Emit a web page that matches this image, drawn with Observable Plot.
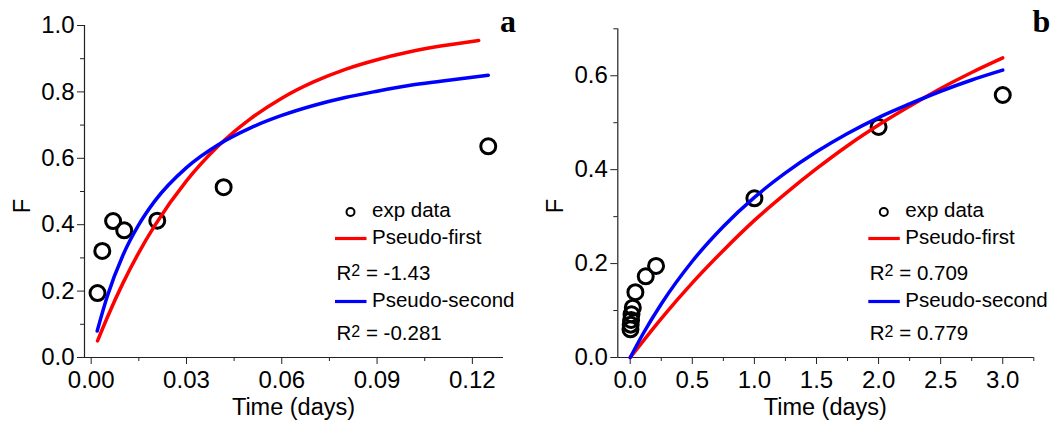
<!DOCTYPE html>
<html>
<head>
<meta charset="utf-8">
<script src="https://cdn.jsdelivr.net/npm/d3@7"></script>
<script src="https://cdn.jsdelivr.net/npm/@observablehq/plot@0.6"></script>
<style>
  body { margin: 0; background: #fff; }
  #chart { display: flex; width: 1052px; height: 423px; background: #fff; }
  #chart svg { flex: none; overflow: visible; }
</style>
</head>
<body>
<div id="chart"></div>
<script>
// ---- Panel a: short-time release (days) ----
const expA_t = [0.0020, 0.0035, 0.0069, 0.0104, 0.0208, 0.0417, 0.1250];
const expA_F = [0.194, 0.321, 0.411, 0.383, 0.412, 0.513, 0.636];

const firstA_t = [0.0020, 0.005, 0.010, 0.015, 0.020, 0.030, 0.040, 0.050, 0.060, 0.070, 0.080, 0.090, 0.100, 0.110, 0.122];
const firstA_F = [0.050, 0.119, 0.224, 0.316, 0.397, 0.532, 0.637, 0.718, 0.781, 0.830, 0.868, 0.897, 0.920, 0.938, 0.955];

const secondA_t = [0.0019, 0.005, 0.010, 0.015, 0.020, 0.030, 0.040, 0.050, 0.060, 0.070, 0.080, 0.090, 0.100, 0.110, 0.125];
const secondA_F = [0.080, 0.182, 0.308, 0.400, 0.471, 0.572, 0.641, 0.691, 0.729, 0.759, 0.783, 0.802, 0.819, 0.832, 0.850];

const r2A = ["-1.43", "-0.281"];

const xTicksA = [0, 0.03, 0.06, 0.09, 0.12];
const xMinorA = [0.015, 0.045, 0.075, 0.105];
const yTicksA = [0, 0.2, 0.4, 0.6, 0.8, 1.0];
const yMinorA = [0.1, 0.3, 0.5, 0.7, 0.9];

// ---- Panel b: long-time release (days) ----
const expB_t = [0.0020, 0.0035, 0.0069, 0.0104, 0.0208, 0.0417, 0.125, 0.208, 1, 2, 3];
const expB_F = [0.060, 0.070, 0.080, 0.092, 0.106, 0.139, 0.173, 0.195, 0.339, 0.491, 0.559];

const firstB_t = [0, 0.25, 0.5, 0.75, 1, 1.25, 1.5, 1.75, 2, 2.25, 2.5, 2.75, 3];
const firstB_F = [0, 0.083, 0.159, 0.228, 0.292, 0.349, 0.402, 0.451, 0.495, 0.535, 0.573, 0.607, 0.638];

const secondB_t = [0, 0.1, 0.25, 0.5, 0.75, 1, 1.25, 1.5, 1.75, 2, 2.25, 2.5, 2.75, 3];
const secondB_F = [0, 0.049, 0.114, 0.205, 0.279, 0.341, 0.393, 0.438, 0.477, 0.511, 0.540, 0.567, 0.591, 0.612];

const r2B = ["0.709", "0.779"];

const xTicksB = [0, 0.5, 1.0, 1.5, 2.0, 2.5, 3.0];
const xMinorB = [0.25, 0.75, 1.25, 1.75, 2.25, 2.75, 3.25];
const yTicksB = [0, 0.2, 0.4, 0.6];
const yMinorB = [0.1, 0.3, 0.5, 0.7];

const seriesNames = ["exp data", "Pseudo-first", "Pseudo-second"];
const xTitle = "Time (days)";
const yTitle = "F";

const FONT = "'Liberation Sans', Arial, Helvetica, sans-serif";
const RED = "#ff0000", BLUE = "#0000ff", AXIS = "#222";

const zip = (ts, fs) => ts.map((t, i) => ({t, F: fs[i]}));

function panel(o) {
  const svg = Plot.plot({
    width: 526,
    height: 423,
    marginLeft: o.ml,
    marginRight: o.mr,
    marginTop: o.mt,
    marginBottom: 66,
    style: {fontFamily: FONT, fontSize: "24px", color: "#000", background: "transparent", overflow: "visible"},
    x: {domain: o.xDomain},
    y: {domain: o.yDomain},
    marks: [
      Plot.axisX({ticks: o.xMinor, tickSize: 4, tickFormat: () => "", label: null, stroke: AXIS}),
      Plot.axisX({ticks: o.xTicks, tickSize: 7, tickPadding: 6, tickFormat: o.xFormat, label: null, stroke: AXIS}),
      Plot.axisY({ticks: o.yMinor, tickSize: 4, tickFormat: () => "", label: null, stroke: AXIS}),
      Plot.axisY({ticks: o.yTicks, tickSize: 7, tickPadding: 3, tickFormat: d3.format(".1f"), label: null, stroke: AXIS}),
      Plot.ruleY([o.yDomain[0]], {stroke: AXIS, strokeWidth: 1.2}),
      Plot.ruleX([o.xDomain[0]], {stroke: AXIS, strokeWidth: 1.2}),
      Plot.dot(o.exp, {x: "t", y: "F", r: 7.5, fill: "none", stroke: "#000", strokeWidth: 3}),
      Plot.line(o.first, {x: "t", y: "F", stroke: RED, strokeWidth: 3.5, curve: "monotone-x"}),
      Plot.line(o.second, {x: "t", y: "F", stroke: BLUE, strokeWidth: 3.5, curve: "monotone-x"})
    ]
  });

  const s = d3.select(svg);
  const frameCx = o.ml + (526 - o.ml - o.mr) / 2;

  // axis titles
  s.append("text")
    .attr("x", frameCx).attr("y", 415)
    .attr("text-anchor", "middle")
    .attr("font-family", FONT).attr("font-size", 23.5).attr("fill", "#000")
    .text(xTitle);
  s.append("text")
    .attr("transform", `translate(${o.fx},206) rotate(-90)`)
    .attr("text-anchor", "middle")
    .attr("font-family", FONT).attr("font-size", 23.5).attr("fill", "#000")
    .text(yTitle);

  // panel letter
  s.append("text")
    .attr("x", o.letterX).attr("y", 31.5)
    .attr("text-anchor", "start")
    .attr("font-family", "'Liberation Serif', 'Times New Roman', serif")
    .attr("font-weight", "bold").attr("font-size", 32).attr("fill", "#000")
    .text(o.letter);

  // legend
  const g = s.append("g")
    .attr("text-anchor", "start")
    .attr("font-family", FONT).attr("font-size", 20.5).attr("fill", "#000");
  const lx = o.legX;         // left end of legend line samples
  const tx = lx + 37;        // text start
  g.append("circle").attr("cx", lx + 15.5).attr("cy", 212).attr("r", 4)
    .attr("fill", "none").attr("stroke", "#000").attr("stroke-width", 2);
  g.append("text").attr("x", tx).attr("y", 216.5).text(seriesNames[0]);

  g.append("line").attr("x1", lx).attr("x2", lx + 31.5).attr("y1", 238.5).attr("y2", 238.5)
    .attr("stroke", RED).attr("stroke-width", 3.2);
  g.append("text").attr("x", tx).attr("y", 243.5).text(seriesNames[1]);

  g.append("line").attr("x1", lx).attr("x2", lx + 31.5).attr("y1", 301.5).attr("y2", 301.5)
    .attr("stroke", BLUE).attr("stroke-width", 3.2);
  g.append("text").attr("x", tx).attr("y", 306.5).text(seriesNames[2]);

  const r2row = (y, val) => {
    const t = g.append("text").attr("x", lx + 1.5).attr("y", y);
    t.append("tspan").text("R");
    t.append("tspan").attr("font-size", 16).attr("dy", -3.5).text("2");
    t.append("tspan").attr("dy", 3.5).text(" = " + val);
  };
  r2row(279.5, o.r2[0]);
  r2row(340, o.r2[1]);

  return svg;
}

const chart = document.getElementById("chart");

chart.append(panel({
  ml: 84, mr: 23, mt: 25,
  xDomain: [-0.0021, 0.1298], yDomain: [0, 1.0],
  xTicks: xTicksA, xMinor: xMinorA, yTicks: yTicksA, yMinor: yMinorA,
  xFormat: d3.format(".2f"),
  exp: zip(expA_t, expA_F), first: zip(firstA_t, firstA_F), second: zip(secondA_t, secondA_F),
  r2: r2A, fx: 30, letter: "a", letterX: 500, legX: 335
}));

chart.append(panel({
  ml: 91.3, mr: 18.7, mt: 28.3,
  xDomain: [-0.1, 3.25], yDomain: [0, 0.7],
  xTicks: xTicksB, xMinor: xMinorB, yTicks: yTicksB, yMinor: yMinorB,
  xFormat: d3.format(".1f"),
  exp: zip(expB_t, expB_F), first: zip(firstB_t, firstB_F), second: zip(secondB_t, secondB_F),
  r2: r2B, fx: 37.3, letter: "b", letterX: 506.5, legX: 342.3
}));
</script>
</body>
</html>
